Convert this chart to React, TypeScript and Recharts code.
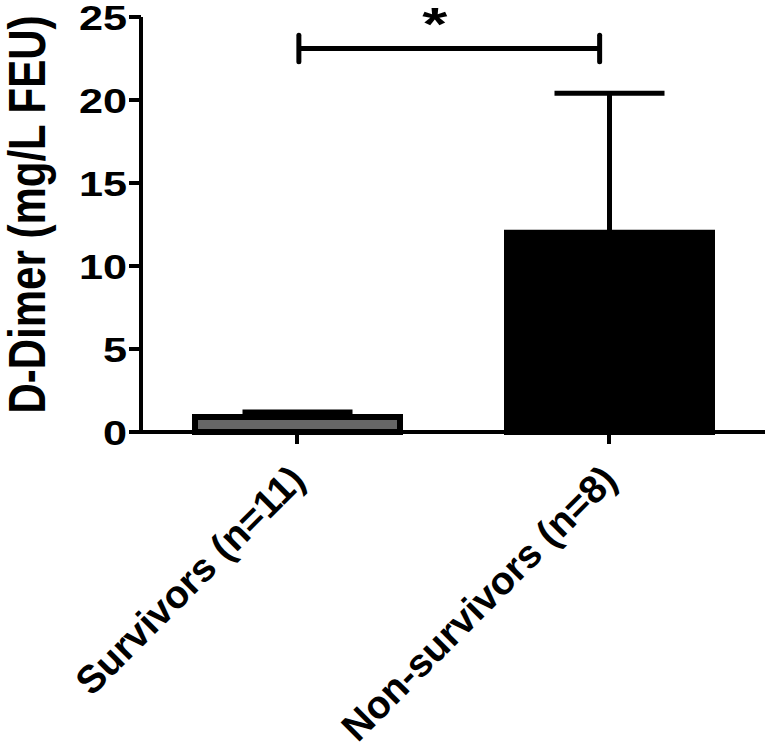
import {
  BarChart,
  Bar,
  XAxis,
  YAxis,
  ErrorBar,
  Cell,
  ReferenceLine,
  ReferenceDot,
} from "recharts";

const groups = ["Survivors (n=11)", "Non-survivors (n=8)"];
const dDimerMean = [0.9, 12.0];
const dDimerSd = [0.3, 8.4];
const barColors = ["#666666", "#000000"];
const yTicks = [0, 5, 10, 15, 20, 25];

// significance bracket, x as a fraction of the plot width, y in mg/L
const bracketX = [0.253, 0.735];
const bracketY = 23.1;
const bracketEnds = [22.3, 23.9];
const starPos = { x: 0.471, y: 23.6 };

const FONT = '"Liberation Sans", Arial, Helvetica, sans-serif';

const data = groups.map((name, i) => ({
  name,
  mean: dDimerMean[i],
  err: [0, dDimerSd[i]],
}));

function YTick({ x, y, payload }: any) {
  return (
    <text
      transform={`translate(${x},${y}) scale(1.2,1)`}
      textAnchor="end"
      dominantBaseline="central"
      fontFamily={FONT}
      fontWeight="bold"
      fontSize={36}
      fill="#000"
    >
      {payload.value}
    </text>
  );
}

function XTick({ x, y, payload }: any) {
  return (
    <text
      transform={`translate(${x + 10},${y + 36}) rotate(-45)`}
      textAnchor="end"
      fontFamily={FONT}
      fontWeight="bold"
      fontSize={39}
      fill="#000"
    >
      {payload.value}
    </text>
  );
}

function YLabel({ viewBox }: any) {
  const cy = viewBox.y + viewBox.height / 2;
  return (
    <text
      transform={`translate(${viewBox.x + 45},${cy - 10}) rotate(-90) scale(1,1.23)`}
      textAnchor="middle"
      fontFamily={FONT}
      fontWeight="bold"
      fontSize={42}
      fill="#000"
    >
      D-Dimer (mg/L FEU)
    </text>
  );
}

function StarMark({ cx, cy }: any) {
  return (
    <text
      transform={`translate(${cx},${cy}) scale(1.4,1)`}
      textAnchor="middle"
      fontFamily={FONT}
      fontWeight="bold"
      fontSize={46}
      fill="#000"
    >
      *
    </text>
  );
}

export default function App() {
  return (
    <div style={{ position: "absolute", left: 0, top: 0, background: "#fff" }}>
      <BarChart
        width={768}
        height={751}
        data={data}
        margin={{ top: 17, right: 3, bottom: 0, left: 0 }}
        barSize={205}
      >
        <XAxis
          dataKey="name"
          height={319}
          interval={0}
          tickSize={12}
          tickMargin={2}
          axisLine={{ stroke: "#000", strokeWidth: 4 }}
          tickLine={{ stroke: "#000", strokeWidth: 4 }}
          tick={<XTick />}
        />
        <XAxis
          xAxisId="num"
          type="number"
          domain={[0, 1]}
          allowDataOverflow
          hide
        />
        <YAxis
          type="number"
          domain={[0, 25]}
          ticks={yTicks}
          width={141}
          tickSize={12}
          tickMargin={2}
          axisLine={{ stroke: "#000", strokeWidth: 4 }}
          tickLine={{ stroke: "#000", strokeWidth: 4 }}
          tick={<YTick />}
          label={<YLabel />}
        />
        <Bar
          dataKey="mean"
          stroke="#000"
          strokeWidth={6}
          isAnimationActive={false}
        >
          {data.map((d, i) => (
            <Cell key={d.name} fill={barColors[i]} />
          ))}
          <ErrorBar
            dataKey="err"
            width={55}
            stroke="#000"
            strokeWidth={5}
            isAnimationActive={false}
          />
        </Bar>
        <ReferenceLine
          xAxisId="num"
          segment={[
            { x: bracketX[0], y: bracketY },
            { x: bracketX[1], y: bracketY },
          ]}
          stroke="#000"
          strokeWidth={5}
        />
        {bracketX.map((bx) => (
          <ReferenceLine
            key={bx}
            xAxisId="num"
            segment={[
              { x: bx, y: bracketEnds[0] },
              { x: bx, y: bracketEnds[1] },
            ]}
            stroke="#000"
            strokeWidth={5}
            strokeLinecap="round"
          />
        ))}
        <ReferenceDot
          xAxisId="num"
          x={starPos.x}
          y={starPos.y}
          shape={<StarMark />}
        />
      </BarChart>
    </div>
  );
}
